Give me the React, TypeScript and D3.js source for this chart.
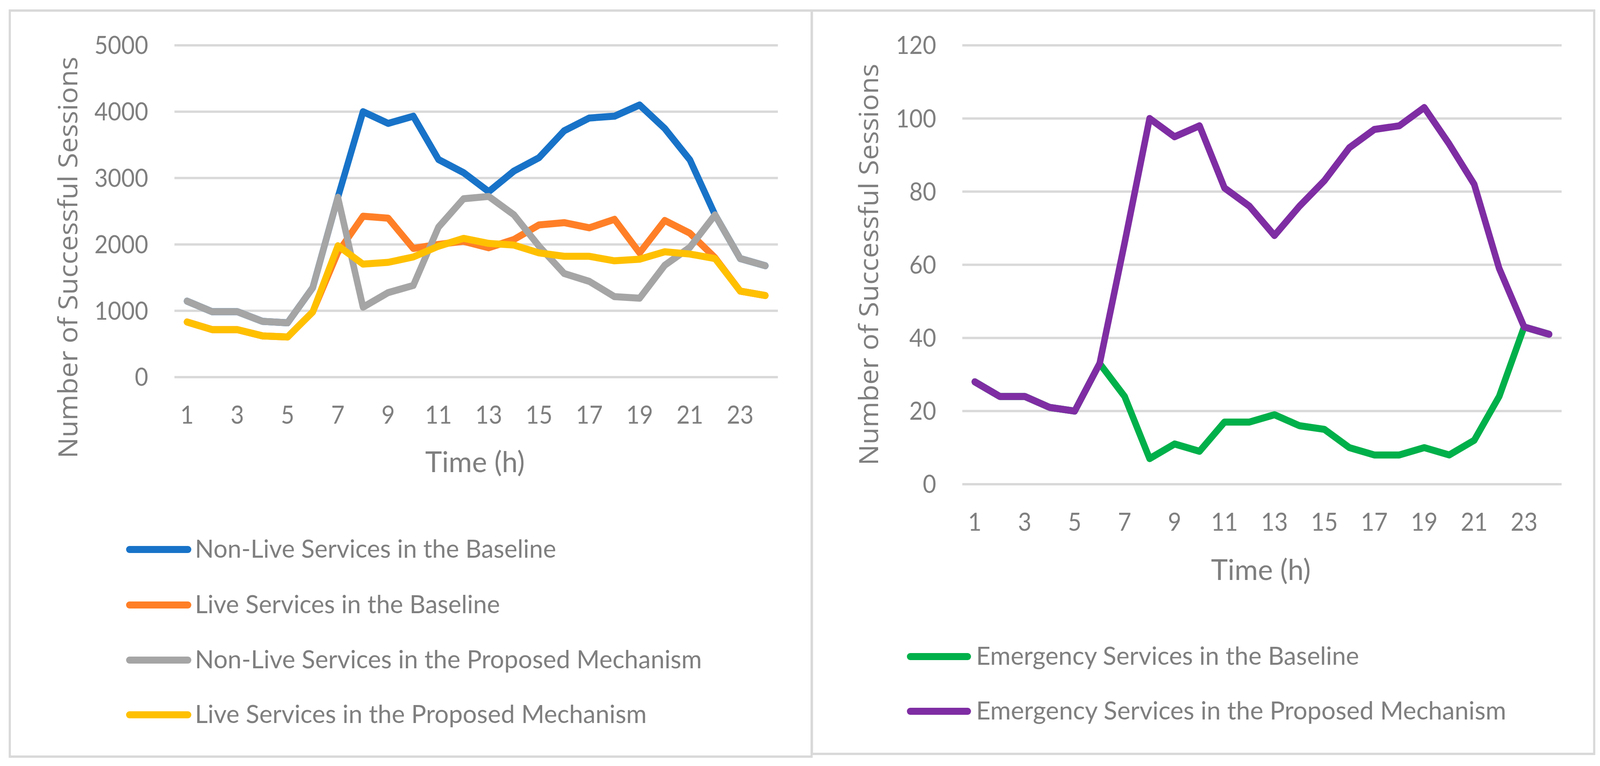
import React from 'react';
import * as d3 from 'd3';

// ---------- data ----------
const hours = [1, 2, 3, 4, 5, 6, 7, 8, 9, 10, 11, 12, 13, 14, 15, 16, 17, 18, 19, 20, 21, 22, 23, 24];
const hourTicks = [1, 3, 5, 7, 9, 11, 13, 15, 17, 19, 21, 23];
const leftYTicks = [0, 1000, 2000, 3000, 4000, 5000];
const rightYTicks = [0, 20, 40, 60, 80, 100, 120];

const nonLiveBaseline = [1145, 986, 986, 841, 818, 1348, 2710, 4000, 3824, 3932, 3280, 3081, 2795, 3105, 3307, 3713, 3905, 3932, 4101, 3747, 3274, 2446, 1787, 1679];
const liveBaseline = [831, 716, 716, 622, 605, 983, 1880, 2425, 2395, 1939, 2000, 2047, 1950, 2074, 2294, 2328, 2250, 2378, 1872, 2361, 2169, 1800, 1297, 1230];
const nonLiveProposed = [1145, 986, 986, 841, 818, 1348, 2710, 1054, 1274, 1382, 2260, 2689, 2723, 2446, 1973, 1561, 1443, 1213, 1189, 1686, 1956, 2446, 1787, 1679];
const liveProposed = [831, 716, 716, 622, 605, 983, 1980, 1703, 1730, 1811, 1973, 2091, 2015, 1990, 1872, 1821, 1821, 1753, 1777, 1889, 1855, 1787, 1297, 1230];

const emergencyBaseline = [28, 24, 24, 21, 20, 33, 24, 7, 11, 9, 17, 17, 19, 16, 15, 10, 8, 8, 10, 8, 12, 24, 43, 41];
const emergencyProposed = [28, 24, 24, 21, 20, 33, 66, 100, 95, 98, 81, 76, 68, 76, 83, 92, 97, 98, 103, 93, 82, 59, 43, 41];

const leftNames = [
  'Non-Live Services in the Baseline',
  'Live Services in the Baseline',
  'Non-Live Services in the Proposed Mechanism',
  'Live Services in the Proposed Mechanism',
];
const leftColors = ['#1873C8', '#FF7F27', '#A5A5A5', '#FFC000'];
const leftData = [nonLiveBaseline, liveBaseline, nonLiveProposed, liveProposed];
const leftLegendLen = [997, 842, 1399, 1247];

const rightNames = ['Emergency Services in the Baseline', 'Emergency Services in the Proposed Mechanism'];
const rightColors = ['#00B04A', '#7F2DA3'];
const rightData = [emergencyBaseline, emergencyProposed];
const rightLegendLen = [1057, 1463];

const TEXT = '#7f7f7f';
const GRID = '#d9d9d9';
const TICK_FONT = 'Lato, "Open Sans", sans-serif';
const TITLE_FONT = '"Open Sans", Lato, sans-serif';

export default function App() {
  const W = 4416;
  const H = 1960;

  const xL = d3.scalePoint<number>().domain(hours).range([481.5, 2147]).padding(0.5);
  const yL = d3.scaleLinear().domain([0, 5000]).range([965, 116]);
  const xR = d3.scalePoint<number>().domain(hours).range([2656, 4310]).padding(0.5);
  const yR = d3.scaleLinear().domain([0, 120]).range([1239, 116]);

  const lineL = d3
    .line<number>()
    .x((_, i) => xL(hours[i]) as number)
    .y((d) => yL(d));
  const lineR = d3
    .line<number>()
    .x((_, i) => xR(hours[i]) as number)
    .y((d) => yR(d));

  const leftLegendY = [1406, 1548, 1689, 1829];
  const rightLegendY = [1680, 1820];

  return (
    <div
      style={{
        position: 'fixed',
        left: 0,
        top: 0,
        right: 0,
        bottom: 0,
        background: '#fff',
        overflow: 'hidden',
      }}
    >
      <svg
        width="100%"
        height="100%"
        viewBox={`0 0 ${W} ${H}`}
        preserveAspectRatio="none"
        style={{ display: 'block' }}
      >
        <rect x={0} y={0} width={W} height={H} fill="#fff" />
        {/* panel borders */}
        <rect x={27} y={27} width={2213} height={1909} fill="none" stroke={GRID} strokeWidth={6} />
        <rect x={2241} y={27} width={2159} height={1902} fill="none" stroke={GRID} strokeWidth={6} />

        {/* ---------- LEFT CHART ---------- */}
        <g>
          {leftYTicks.map((t) => (
            <g key={'lg' + t}>
              <line x1={481.5} x2={2147} y1={yL(t)} y2={yL(t)} stroke={GRID} strokeWidth={6} />
              <text
                x={409}
                y={yL(t)}
                dy="0.35em"
                textAnchor="end"
                fontFamily={TICK_FONT}
                fontSize={64}
                fill={TEXT}
              >
                {t}
              </text>
            </g>
          ))}
          {hourTicks.map((h) => (
            <text
              key={'lx' + h}
              x={xL(h)}
              y={1084}
              textAnchor="middle"
              fontFamily={TICK_FONT}
              fontSize={64}
              fill={TEXT}
            >
              {h}
            </text>
          ))}
          <text
            x={1311}
            y={1208}
            textAnchor="middle"
            fontFamily={TICK_FONT}
            fontSize={74}
            fill={TEXT}
            textLength={275}
            lengthAdjust="spacingAndGlyphs"
          >
            Time (h)
          </text>
          <text
            transform="translate(213,659) rotate(-90)"
            textAnchor="middle"
            fontFamily={TITLE_FONT}
            fontSize={72}
            fill={TEXT}
            textLength={1028}
            lengthAdjust="spacingAndGlyphs"
          >
            Number of Successful Sessions
          </text>
          {leftData.map((d, i) => (
            <path
              key={'ls' + i}
              d={lineL(d) as string}
              fill="none"
              stroke={leftColors[i]}
              strokeWidth={18}
              strokeLinejoin="round"
              strokeLinecap="round"
            />
          ))}
          {leftNames.map((n, i) => (
            <g key={'ll' + i}>
              <line
                x1={357}
                x2={519}
                y1={leftLegendY[i]}
                y2={leftLegendY[i]}
                stroke={leftColors[i]}
                strokeWidth={18}
                strokeLinecap="round"
              />
              <text
                x={538}
                y={leftLegendY[i] + 21}
                fontFamily={TICK_FONT}
                fontSize={64}
                fill={TEXT}
                textLength={leftLegendLen[i]}
                lengthAdjust="spacingAndGlyphs"
              >
                {n}
              </text>
            </g>
          ))}
        </g>

        {/* ---------- RIGHT CHART ---------- */}
        <g>
          {rightYTicks.map((t) => (
            <g key={'rg' + t}>
              <line x1={2656} x2={4310} y1={yR(t)} y2={yR(t)} stroke={GRID} strokeWidth={6} />
              <text
                x={2584}
                y={yR(t)}
                dy="0.35em"
                textAnchor="end"
                fontFamily={TICK_FONT}
                fontSize={64}
                fill={TEXT}
              >
                {t}
              </text>
            </g>
          ))}
          {hourTicks.map((h) => (
            <text
              key={'rx' + h}
              x={xR(h)}
              y={1358}
              textAnchor="middle"
              fontFamily={TICK_FONT}
              fontSize={64}
              fill={TEXT}
            >
              {h}
            </text>
          ))}
          <text
            x={3480}
            y={1484}
            textAnchor="middle"
            fontFamily={TICK_FONT}
            fontSize={74}
            fill={TEXT}
            textLength={275}
            lengthAdjust="spacingAndGlyphs"
          >
            Time (h)
          </text>
          <text
            transform="translate(2424,677) rotate(-90)"
            textAnchor="middle"
            fontFamily={TITLE_FONT}
            fontSize={72}
            fill={TEXT}
            textLength={1028}
            lengthAdjust="spacingAndGlyphs"
          >
            Number of Successful Sessions
          </text>
          {rightData.map((d, i) => (
            <path
              key={'rs' + i}
              d={lineR(d) as string}
              fill="none"
              stroke={rightColors[i]}
              strokeWidth={18}
              strokeLinejoin="round"
              strokeLinecap="round"
            />
          ))}
          {rightNames.map((n, i) => (
            <g key={'rl' + i}>
              <line
                x1={2512}
                x2={2671}
                y1={rightLegendY[i]}
                y2={rightLegendY[i]}
                stroke={rightColors[i]}
                strokeWidth={18}
                strokeLinecap="round"
              />
              <text
                x={2694}
                y={rightLegendY[i] + 21}
                fontFamily={TICK_FONT}
                fontSize={64}
                fill={TEXT}
                textLength={rightLegendLen[i]}
                lengthAdjust="spacingAndGlyphs"
              >
                {n}
              </text>
            </g>
          ))}
        </g>
      </svg>
    </div>
  );
}
